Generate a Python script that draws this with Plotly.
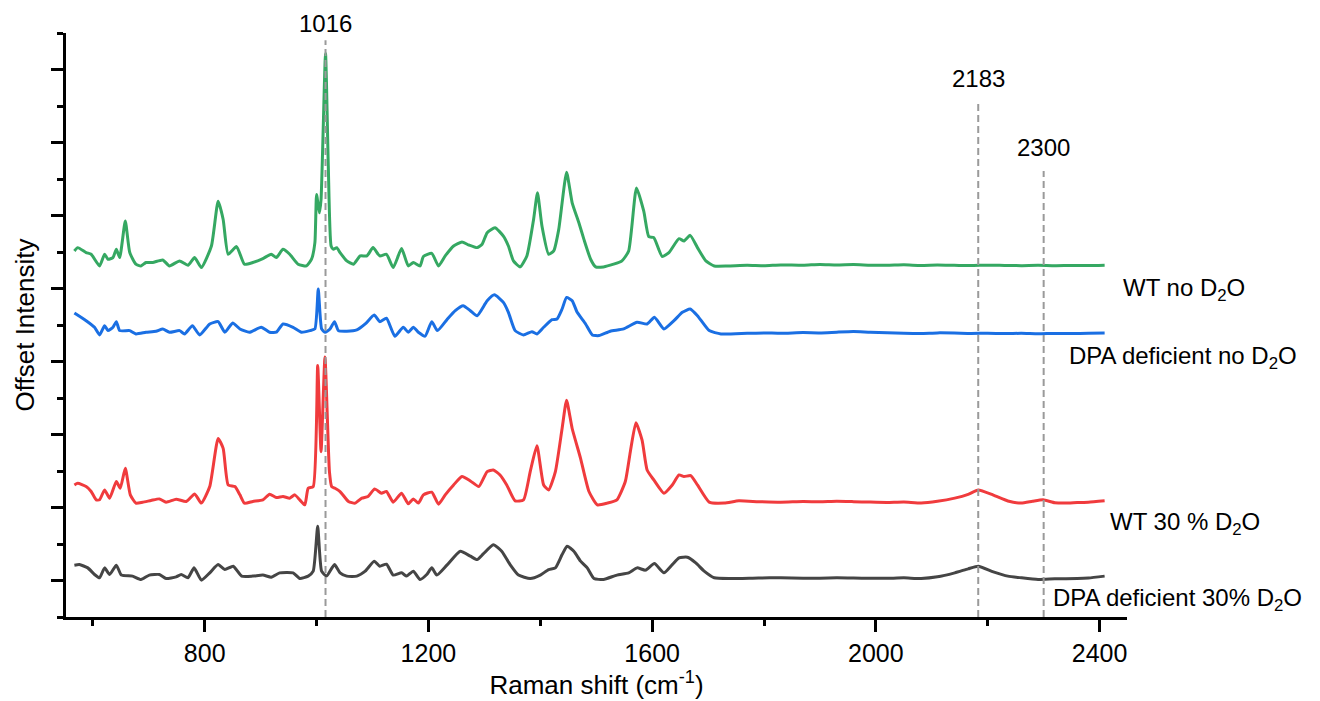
import plotly.graph_objects as go

# ---------------- data (Raman shift in cm-1, offset intensity in a.u.) ----------------
green_x = [567, 573, 588, 597, 612, 621, 627, 636, 642, 648, 658, 666, 677, 686, 695, 707, 725, 737, 755, 770,
           782, 794, 812, 824, 833, 842, 857, 871, 886, 904, 919, 928, 940, 952, 967, 982, 991, 997, 1000, 1005,
           1008, 1016, 1021, 1026, 1030, 1036, 1042, 1054, 1066, 1078, 1090, 1101, 1113, 1125, 1137, 1152, 1164,
           1173, 1185, 1191, 1206, 1218, 1230, 1245, 1260, 1272, 1287, 1296, 1305, 1319, 1334, 1343, 1352, 1364,
           1376, 1388, 1395, 1403, 1415, 1424, 1433, 1447, 1457, 1469, 1478, 1490, 1499, 1513, 1531, 1546, 1558,
           1572, 1585, 1594, 1603, 1618, 1630, 1648, 1657, 1668, 1681, 1696, 1711, 1735, 1770, 1800, 1830, 1870,
           1900, 1930, 1960, 1990, 2020, 2050, 2080, 2110, 2140, 2170, 2200, 2230, 2260, 2290, 2320, 2350, 2380, 2409]
green_y = [4.514, 4.560, 4.492, 4.469, 4.309, 4.469, 4.401, 4.424, 4.537, 4.424, 4.923, 4.492, 4.333, 4.309,
           4.356, 4.356, 4.391, 4.309, 4.378, 4.319, 4.424, 4.287, 4.582, 5.196, 4.946, 4.469, 4.574, 4.333,
           4.356, 4.410, 4.469, 4.424, 4.537, 4.469, 4.333, 4.309, 4.401, 4.628, 5.287, 5.037, 5.219, 7.219,
           5.673, 4.582, 4.537, 4.560, 4.492, 4.378, 4.333, 4.446, 4.446, 4.560, 4.446, 4.469, 4.287, 4.547,
           4.309, 4.356, 4.309, 4.438, 4.482, 4.309, 4.446, 4.582, 4.637, 4.596, 4.560, 4.605, 4.765, 4.833,
           4.718, 4.582, 4.378, 4.296, 4.446, 4.946, 5.310, 4.855, 4.469, 4.514, 4.810, 5.591, 5.174, 4.901,
           4.673, 4.401, 4.296, 4.296, 4.333, 4.378, 4.514, 5.378, 5.059, 4.710, 4.697, 4.438, 4.492, 4.683,
           4.650, 4.728, 4.560, 4.378, 4.309, 4.309, 4.319, 4.312, 4.323, 4.318, 4.330, 4.322, 4.328, 4.320,
           4.318, 4.324, 4.316, 4.321, 4.318, 4.314, 4.320, 4.316, 4.313, 4.318, 4.312, 4.316, 4.314, 4.320]

blue_x = [567, 588, 603, 612, 621, 627, 636, 642, 648, 666, 677, 695, 713, 725, 737, 755, 764, 778, 791, 809,
          824, 836, 850, 863, 880, 901, 916, 928, 940, 958, 973, 988, 997, 1003, 1009, 1015, 1024, 1032, 1039,
          1054, 1072, 1087, 1103, 1113, 1125, 1140, 1155, 1164, 1173, 1182, 1194, 1206, 1216, 1233, 1248, 1262,
          1275, 1287, 1305, 1318, 1334, 1343, 1355, 1370, 1385, 1394, 1406, 1421, 1430, 1439, 1447, 1457, 1466,
          1481, 1493, 1505, 1525, 1549, 1573, 1591, 1604, 1621, 1639, 1654, 1668, 1681, 1702, 1723, 1770, 1800,
          1830, 1870, 1900, 1930, 1960, 1990, 2020, 2050, 2080, 2110, 2140, 2170, 2200, 2230, 2260, 2290, 2320,
          2350, 2380, 2409]
blue_y = [3.664, 3.559, 3.469, 3.364, 3.491, 3.423, 3.469, 3.546, 3.423, 3.423, 3.378, 3.401, 3.415, 3.446,
          3.401, 3.423, 3.378, 3.491, 3.364, 3.514, 3.546, 3.401, 3.528, 3.446, 3.401, 3.469, 3.401, 3.401,
          3.514, 3.469, 3.401, 3.423, 3.446, 3.992, 3.446, 3.401, 3.446, 3.546, 3.423, 3.415, 3.432, 3.514,
          3.637, 3.546, 3.592, 3.347, 3.469, 3.401, 3.469, 3.401, 3.347, 3.546, 3.423, 3.573, 3.696, 3.764,
          3.696, 3.627, 3.832, 3.914, 3.810, 3.674, 3.423, 3.364, 3.409, 3.378, 3.469, 3.573, 3.582, 3.719,
          3.878, 3.832, 3.674, 3.514, 3.364, 3.355, 3.415, 3.446, 3.537, 3.514, 3.606, 3.446, 3.559, 3.674,
          3.719, 3.627, 3.423, 3.378, 3.387, 3.392, 3.387, 3.396, 3.392, 3.402, 3.410, 3.400, 3.395, 3.388,
          3.385, 3.392, 3.390, 3.384, 3.387, 3.382, 3.386, 3.380, 3.385, 3.382, 3.386, 3.390]

red_x = [567, 573, 588, 597, 606, 612, 621, 630, 642, 649, 658, 667, 677, 689, 704, 719, 731, 749, 767, 782,
         794, 809, 824, 833, 842, 854, 863, 871, 886, 904, 916, 928, 940, 952, 961, 970, 979, 985, 994, 1002,
         1008, 1015, 1023, 1027, 1033, 1042, 1057, 1069, 1081, 1092, 1104, 1116, 1125, 1137, 1152, 1164, 1173,
         1182, 1191, 1206, 1218, 1230, 1245, 1260, 1275, 1290, 1305, 1316, 1328, 1340, 1355, 1370, 1382, 1394,
         1406, 1415, 1427, 1439, 1447, 1457, 1472, 1487, 1502, 1520, 1537, 1552, 1561, 1571, 1582, 1591, 1603,
         1621, 1636, 1648, 1657, 1669, 1681, 1702, 1729, 1755, 1790, 1830, 1870, 1900, 1930, 1960, 1990, 2020,
         2050, 2081, 2110, 2141, 2165, 2183, 2210, 2236, 2260, 2280, 2299, 2320, 2338, 2360, 2380, 2409]
red_y = [1.309, 1.332, 1.287, 1.219, 1.105, 1.105, 1.241, 1.128, 1.356, 1.264, 1.537, 1.173, 1.060, 1.073,
         1.096, 1.118, 1.073, 1.114, 1.083, 1.186, 1.060, 1.287, 1.946, 1.810, 1.309, 1.287, 1.173, 1.060,
         1.083, 1.105, 1.182, 1.137, 1.151, 1.128, 1.173, 1.105, 1.036, 1.264, 1.287, 2.946, 1.765, 3.060,
         1.492, 1.287, 1.264, 1.219, 1.083, 1.060, 1.128, 1.151, 1.255, 1.196, 1.219, 1.073, 1.196, 1.050,
         1.118, 1.060, 1.173, 1.210, 1.046, 1.173, 1.309, 1.424, 1.364, 1.287, 1.492, 1.514, 1.446, 1.309,
         1.091, 1.105, 1.492, 1.846, 1.309, 1.241, 1.492, 2.082, 2.468, 2.082, 1.673, 1.219, 1.036, 1.060,
         1.105, 1.356, 1.765, 2.160, 1.923, 1.514, 1.377, 1.196, 1.309, 1.446, 1.424, 1.437, 1.309, 1.073,
         1.060, 1.091, 1.080, 1.073, 1.082, 1.078, 1.085, 1.080, 1.074, 1.070, 1.076, 1.062, 1.085, 1.128,
         1.180, 1.241, 1.170, 1.090, 1.060, 1.085, 1.105, 1.065, 1.060, 1.068, 1.073, 1.091]

grey_x = [567, 576, 591, 603, 612, 621, 630, 642, 651, 671, 686, 701, 719, 731, 749, 758, 770, 781, 794, 809,
          824, 836, 851, 866, 886, 904, 919, 934, 958, 970, 985, 994, 1002, 1009, 1018, 1032, 1042, 1054, 1072,
          1087, 1103, 1113, 1125, 1137, 1152, 1161, 1173, 1185, 1197, 1206, 1215, 1233, 1257, 1275, 1287, 1298,
          1316, 1331, 1346, 1361, 1382, 1400, 1415, 1427, 1439, 1448, 1460, 1472, 1484, 1496, 1513, 1537, 1558,
          1573, 1588, 1604, 1621, 1636, 1648, 1663, 1678, 1693, 1711, 1740, 1790, 1830, 1870, 1900, 1930, 1960,
          1990, 2020, 2050, 2081, 2110, 2141, 2165, 2183, 2210, 2236, 2260, 2290, 2320, 2360, 2380, 2409]
grey_y = [0.210, 0.218, 0.173, 0.082, 0.037, 0.173, 0.082, 0.210, 0.074, 0.060, 0.014, 0.074, 0.082, 0.027,
          0.050, 0.082, 0.037, 0.173, 0.005, 0.105, 0.218, 0.150, 0.196, 0.060, 0.060, 0.074, 0.046, 0.105,
          0.105, 0.027, 0.060, 0.128, 0.742, 0.128, 0.060, 0.218, 0.105, 0.060, 0.060, 0.128, 0.265, 0.196,
          0.224, 0.074, 0.105, 0.060, 0.128, 0.014, 0.082, 0.173, 0.074, 0.210, 0.401, 0.333, 0.286, 0.364,
          0.491, 0.401, 0.218, 0.074, 0.027, 0.074, 0.150, 0.173, 0.355, 0.469, 0.401, 0.265, 0.173, 0.027,
          0.014, 0.074, 0.105, 0.173, 0.142, 0.232, 0.105, 0.218, 0.310, 0.319, 0.241, 0.128, 0.037, 0.027,
          0.035, 0.037, 0.030, 0.032, 0.038, 0.035, 0.030, 0.030, 0.036, 0.027, 0.050, 0.105, 0.160, 0.196,
          0.119, 0.060, 0.037, 0.014, 0.023, 0.027, 0.035, 0.060]

series_names = ["WT no D<sub>2</sub>O", "DPA deficient no D<sub>2</sub>O",
                "WT 30 % D<sub>2</sub>O", "DPA deficient 30% D<sub>2</sub>O"]
series_colors = ["#35a862", "#1a6fe3", "#f03b3d", "#454545"]
label_x = [2439, 2342, 2415, 2314]
label_y = [3.98, 3.05, 0.78, -0.26]

peak_positions = [1016, 2183, 2300]
peak_labels = ["1016", "2183", "2300"]
peak_line_tops = [7.40, 6.54, 5.61]
peak_label_y = [7.63, 6.87, 5.93]

x_ticks = [800, 1200, 1600, 2000, 2400]
x_range = [552, 2449]
y_range = [-0.5, 7.5]

# ---------------- figure ----------------
FONT = "Liberation Sans, Arial, sans-serif"
fig = go.Figure()
for xs, ys, nm, col in zip([green_x, blue_x, red_x, grey_x], [green_y, blue_y, red_y, grey_y],
                           series_names, series_colors):
    fig.add_trace(go.Scatter(x=xs, y=ys, mode="lines", name=nm,
                             line=dict(color=col, width=3, shape="spline", smoothing=0.5),
                             showlegend=False))

for px, top in zip(peak_positions, peak_line_tops):
    fig.add_shape(type="line", xref="x", yref="y", x0=px, x1=px, y0=y_range[0], y1=top,
                  line=dict(color="#9a9a9a", width=2, dash="7px,4px"), layer="above")

# peak labels sit above the plotting area, so they are placed in paper units
for px, txt, ty in zip(peak_positions, peak_labels, peak_label_y):
    fig.add_annotation(x=px, y=(ty - y_range[0]) / (y_range[1] - y_range[0]), xref="x", yref="paper",
                       text=txt, showarrow=False,
                       font=dict(size=24, color="black", family=FONT), xanchor="center", yanchor="middle")

for lx, ly, nm in zip(label_x, label_y, series_names):
    fig.add_annotation(x=lx, y=ly, xref="x", yref="y", text=nm, showarrow=False,
                       font=dict(size=24, color="black", family=FONT), xanchor="left", yanchor="middle")

# the page body adds an 8 px offset, so the figure is 8 px smaller and margins compensate
fig.update_layout(
    width=1312, height=693,
    margin=dict(l=58, r=193, t=25, b=82),
    paper_bgcolor="white", plot_bgcolor="white",
    font=dict(family=FONT, color="black"),
)
fig.update_xaxes(
    range=x_range, tickvals=x_ticks, ticktext=[str(v) for v in x_ticks],
    showline=True, linecolor="black", linewidth=2.5, mirror=False,
    ticks="outside", ticklen=12, tickwidth=2.5, tickcolor="black",
    minor=dict(tickvals=[600, 1000, 1400, 1800, 2200], ticks="outside", ticklen=6,
               tickwidth=2.5, tickcolor="black"),
    showgrid=False, zeroline=False, tickfont=dict(size=25),
    title=dict(text="Raman shift (cm<sup>-1</sup>)", font=dict(size=26), standoff=4),
)
fig.update_yaxes(
    range=y_range, tick0=0, dtick=1, showticklabels=False,
    showline=True, linecolor="black", linewidth=2.5,
    ticks="outside", ticklen=12, tickwidth=2.5, tickcolor="black",
    minor=dict(dtick=0.5, ticks="outside", ticklen=6, tickwidth=2.5, tickcolor="black"),
    showgrid=False, zeroline=False,
    title=dict(text="Offset Intensity", font=dict(size=26), standoff=10),
)

fig.write_html("out.html")
